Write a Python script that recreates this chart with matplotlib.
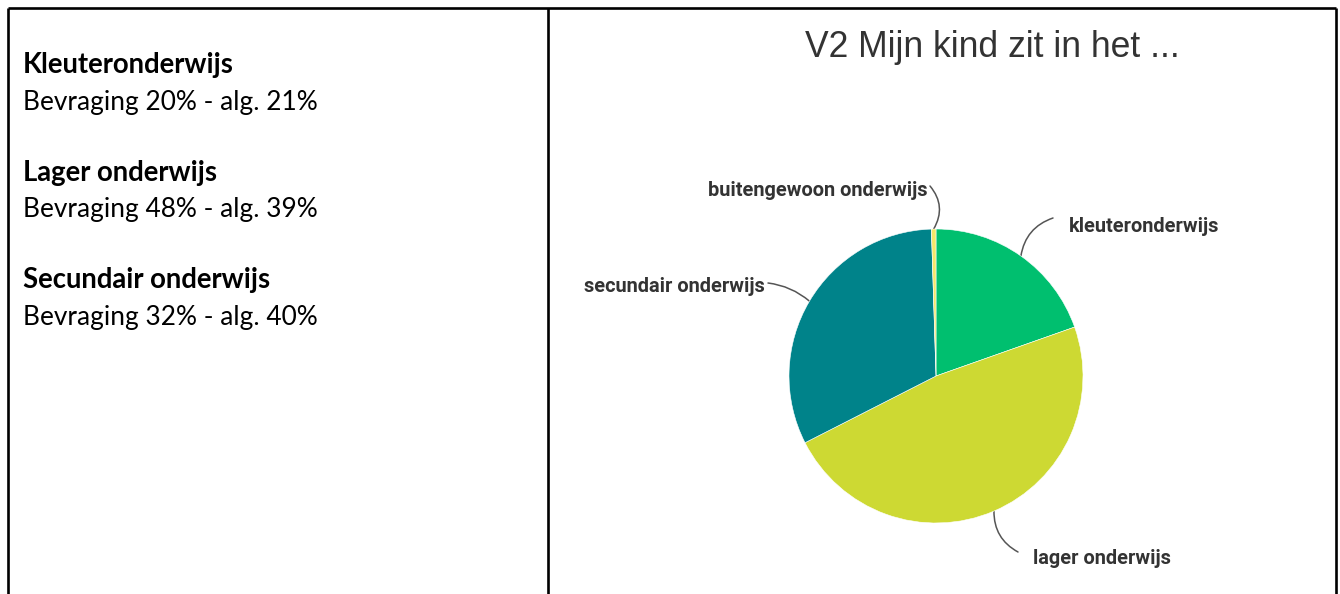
import matplotlib
matplotlib.use("Agg")
import numpy as np
import matplotlib.pyplot as plt

# ---------------- data ----------------
categories = ["kleuteronderwijs", "lager onderwijs", "secundair onderwijs", "buitengewoon onderwijs"]
shares = [19.6, 47.9, 32.0, 0.5]
slice_colors = ["#00BF6F", "#CDD933", "#00838A", "#F4E76A"]

left_heads = ["Kleuteronderwijs", "Lager onderwijs", "Secundair onderwijs"]
left_lines = ["Bevraging 20% - alg. 21%", "Bevraging 48% - alg. 39%", "Bevraging 32% - alg. 40%"]

title = "V2 Mijn kind zit in het ..."

W, H = 1340, 594
fig = plt.figure(figsize=(W / 100, H / 100), dpi=100)
fig.patch.set_facecolor("white")

# background axes in pixel coords (y down)
bg = fig.add_axes([0, 0, 1, 1])
bg.set_xlim(0, W)
bg.set_ylim(H, 0)
bg.axis("off")

# table borders
lw = 1.9
bg.plot([8, 1336], [8, 8], color="black", lw=lw, solid_capstyle="butt")
for x in (8, 548, 1336):
    bg.plot([x, x], [8, H], color="black", lw=lw, solid_capstyle="butt")

# left cell text
y0 = 73
for i, (h, t) in enumerate(zip(left_heads, left_lines)):
    yb = y0 + i * 107.5
    bg.text(23, yb, h, fontsize=19.8, fontweight="bold", family="Lato",
            va="baseline", ha="left", color="black")
    bg.text(23, yb + 37, t, fontsize=18.9, family="Lato",
            va="baseline", ha="left", color="black")

# title
bg.text(992.5, 57, title, fontsize=25.6, family="Liberation Sans", color="#333333",
        ha="center", va="baseline")

# ---------------- pie ----------------
cx, cy, r = 936, 376, 147
pax = fig.add_axes([(cx - r) / W, (H - cy - r) / H, 2 * r / W, 2 * r / H])
wedges, _ = pax.pie(shares, colors=slice_colors, startangle=90, counterclock=False,
                    radius=1, wedgeprops=dict(linewidth=0.4, edgecolor="white"))
pax.set_xlim(-1, 1)
pax.set_ylim(-1, 1)
pax.set_aspect("equal")
pax.axis("off")

# labels with curved leader lines
label_pos = {
    "kleuteronderwijs": ((1069, 226), "left", (1053, 218), 0.3),
    "lager onderwijs": ((1033, 559), "left", (1018, 552), -0.3),
    "secundair onderwijs": ((765, 287), "right", (768, 283), -0.15),
    "buitengewoon onderwijs": ((928, 190), "right", (930, 186), -0.35),
}
for w, name in zip(wedges, categories):
    ang = np.deg2rad((w.theta1 + w.theta2) / 2)
    anchor = (cx + r * np.cos(ang), cy - r * np.sin(ang))
    (tx, ty), ha, lend, rad = label_pos[name]
    bg.annotate("", xy=anchor, xytext=lend,
                arrowprops=dict(arrowstyle="-", color="#555555", lw=1.1,
                                shrinkA=0, shrinkB=0,
                                connectionstyle=f"arc3,rad={rad}"))
    bg.text(tx, ty, name, fontsize=14.4, fontweight="bold", family="Roboto",
            color="#333333", ha=ha, va="center")

fig.savefig("out.png", dpi=100)
